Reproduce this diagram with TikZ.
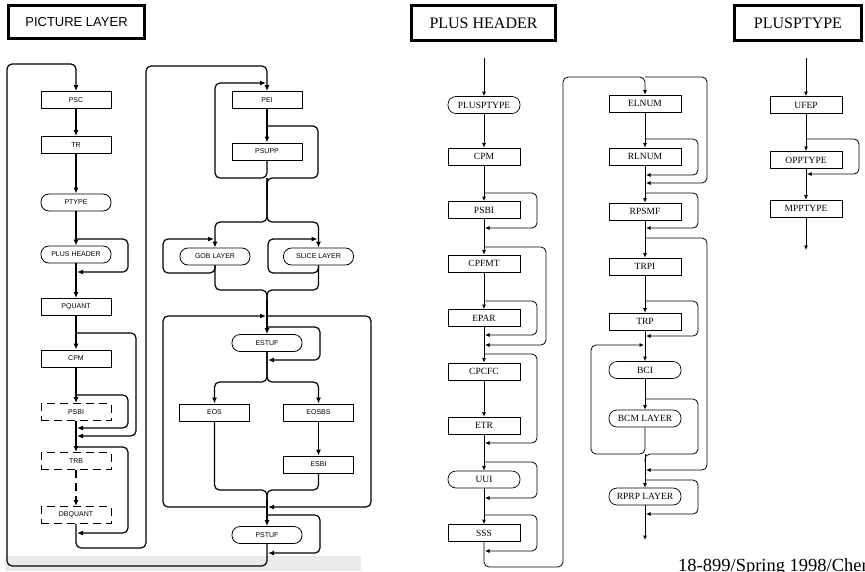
\documentclass[tikz,border=0pt]{standalone}
\usepackage{fontspec}
\setmainfont{Liberation Serif}
\setsansfont{Liberation Sans}
\usetikzlibrary{arrows.meta}

\begin{document}
\begin{tikzpicture}[
  x=1pt, y=-1pt,
  blockbox/.style={rectangle, draw, line width=0.8pt, minimum width=70pt,
                   minimum height=17pt, inner sep=0pt,
                   font=\sffamily\fontsize{7}{8}\selectfont},
  pillbox/.style={blockbox, rounded corners=8pt},
  optbox/.style={blockbox, dash pattern=on 8pt off 5pt},
  titlebox/.style={rectangle, draw, line width=3pt, inner sep=0pt},
  flow/.style={line width=1.2pt, rounded corners=5pt, -{Latex[length=6pt,width=5pt]}},
  link/.style={line width=1.2pt, rounded corners=5pt},
  hblock/.style={rectangle, draw, line width=0.7pt, minimum width=72pt,
                 minimum height=17pt, inner sep=0pt,
                 font=\fontsize{9.5}{10}\selectfont},
  hpill/.style={hblock, rounded corners=8pt},
  hflow/.style={line width=0.8pt, rounded corners=5pt, -{Latex[length=4.5pt,width=4pt]}},
  hlink/.style={line width=0.8pt, rounded corners=5pt}
]
\useasboundingbox (0,0) rectangle (865,571);
\fill[black!8] (5,556) rectangle (361,571);

% titles
\node[titlebox, minimum width=136pt, minimum height=33pt,
      font=\sffamily\fontsize{13}{14}\selectfont] (ttlpic) at (76.5,22) {PICTURE LAYER};
\node[titlebox, minimum width=144pt, minimum height=35pt,
      font=\fontsize{16}{18}\selectfont] (ttlplus) at (483.5,23) {PLUS HEADER};
\node[titlebox, minimum width=127pt, minimum height=35pt,
      font=\fontsize{16}{18}\selectfont] (ttlptype) at (798,23) {PLUSPTYPE};

% picture layer
\node[blockbox] (psc)     at (76,100)   {PSC};
\node[blockbox] (tr)      at (76,145)   {TR};
\node[pillbox]  (ptype)   at (76,202.5) {PTYPE};
\node[pillbox]  (plushdr) at (76,254.5) {PLUS HEADER};
\node[blockbox] (pquant)  at (76,307)   {PQUANT};
\node[blockbox] (cpm)     at (76,358.5) {CPM};
\node[optbox]   (psbi)    at (76,412)   {PSBI};
\node[optbox]   (trb)     at (76,461)   {TRB};
\node[optbox]   (dbquant) at (76,515)   {DBQUANT};

\node[blockbox] (pei)   at (267,100)   {PEI};
\node[blockbox] (psupp) at (267,151.5) {PSUPP};
\node[pillbox]  (gob)   at (215,256.5) {GOB LAYER};
\node[pillbox]  (slice) at (318.5,256.5) {SLICE LAYER};
\node[pillbox]  (estuf) at (267,343)   {ESTUF};
\node[blockbox] (eos)   at (214.5,412.5) {EOS};
\node[blockbox] (eosbs) at (318.5,412.5) {EOSBS};
\node[blockbox] (esbi)  at (318.5,464.5) {ESBI};
\node[pillbox]  (pstuf) at (267,535)   {PSTUF};

\draw[flow] (psc) -- (tr);
\draw[flow] (tr) -- (ptype);
\draw[flow] (ptype) -- (plushdr);
\draw[flow] (plushdr) -- (pquant);
\draw[flow] (pquant) -- (cpm);
\draw[flow] (cpm) -- (psbi);
\draw[flow] (psbi) -- (trb);
\draw[flow, dash pattern=on 8pt off 5pt] (trb) -- (dbquant);
\draw[flow] (76,239) -| (128,272) -- (77,272);
\draw[flow] (76,333) -| (136,436) -- (77,436);
\draw[flow] (76,395) -| (128,428) -- (77,428);
\draw[flow] (76,447) -| (128,533) -- (77,533);
\draw[flow] (dbquant) -- (76,548) -| (146,66) -| (pei);
\draw[flow] (pstuf) -- (267,566) -| (7,64) -| (psc);

\draw[flow] (pei) -- (psupp);
\draw[link] (267,126) -| (318,178) -- (267,178) -- (267,200);
\draw[flow] (psupp) -- (267,178) -| (215,83) -- (266,83);
\draw[flow] (267,178) -- (267,222) -| (gob);
\draw[flow] (267,178) -- (267,222) -| (slice);
\draw[flow] (gob) -- (215,273) -| (163,239) -- (214,239);
\draw[flow] (slice) -- (318.5,273) -| (268,239) -- (317.5,239);
\draw[link] (gob) |- (267,290) -- (267,300);
\draw[link] (slice) |- (267,290) -- (267,300);
\draw[flow] (267,300) -- (estuf);
\draw[flow] (267,316) -| (371,507) -- (268,507);
\draw[flow] (267,507) -| (163,316) -- (266,316);
\draw[flow] (267,327) -| (320,360) -- (268,360);
\draw[flow] (estuf) -- (267,382) -| (eos);
\draw[flow] (estuf) -- (267,382) -| (eosbs);
\draw[flow] (eosbs) -- (esbi);
\draw[link] (eos) |- (267,490) -- (267,500);
\draw[link] (esbi) |- (267,490) -- (267,500);
\draw[flow] (267,500) -- (pstuf);
\draw[flow] (267,515) -| (320,553) -- (268,553);

% plus header
\node[hpill]  (hptype) at (484,105)   {PLUSPTYPE};
\node[hblock] (hcpm)   at (484,156.5) {CPM};
\node[hblock] (hpsbi)  at (484,210)   {PSBI};
\node[hblock] (cpfmt)  at (484,263.5) {CPFMT};
\node[hblock] (epar)   at (484,318)   {EPAR};
\node[hblock] (cpcfc)  at (484,371.5) {CPCFC};
\node[hblock] (etr)    at (484,425.5) {ETR};
\node[hpill]  (uui)    at (484,479.5) {UUI};
\node[hblock] (sss)    at (484,533)   {SSS};

\node[hblock] (elnum)  at (645,103.5) {ELNUM};
\node[hblock] (rlnum)  at (645,156.5) {RLNUM};
\node[hblock] (rpsmf)  at (645,211.5) {RPSMF};
\node[hblock] (trpi)   at (645,266.5) {TRPI};
\node[hblock] (trp)    at (645,321.5) {TRP};
\node[hpill]  (bci)    at (645,370)   {BCI};
\node[hpill]  (bcm)    at (645,418.5) {BCM LAYER};
\node[hpill]  (rprp)   at (645,496.5) {RPRP LAYER};

\coordinate (hin) at (484,58);
\draw[hflow] (hin) -- (hptype);
\draw[hflow] (hptype) -- (hcpm);
\draw[hflow] (hcpm) -- (hpsbi);
\draw[hflow] (hpsbi) -- (cpfmt);
\draw[hflow] (cpfmt) -- (epar);
\draw[hflow] (epar) -- (cpcfc);
\draw[hflow] (cpcfc) -- (etr);
\draw[hflow] (etr) -- (uui);
\draw[hflow] (uui) -- (sss);
\draw[hflow] (484,193) -| (537,228) -- (485,228);
\draw[hflow] (484,247) -| (546,345) -- (485,345);
\draw[hflow] (484,301) -| (537,335) -- (485,335);
\draw[hflow] (484,354) -| (537,443) -- (485,443);
\draw[hflow] (484,462) -| (537,498) -- (485,498);
\draw[hflow] (484,515) -| (537,551) -- (485,551);
\draw[hflow] (sss) -- (484,567) -| (563,77) -| (elnum);

\draw[hflow] (elnum) -- (rlnum);
\draw[hflow] (rlnum) -- (rpsmf);
\draw[hflow] (rpsmf) -- (trpi);
\draw[hflow] (trpi) -- (trp);
\draw[hflow] (trp) -- (bci);
\draw[hflow] (bci) -- (bcm);
\draw[hflow] (645,77) -| (707,183) -- (646,183);
\draw[hflow] (645,139) -| (698,175) -- (646,175);
\draw[hflow] (645,193) -| (698,228) -- (646,228);
\draw[hflow] (645,238) -| (707,470) -- (646,470);
\draw[hflow] (645,301) -| (698,336) -- (646,336);
\draw[hlink] (645,399) -| (698,454) -- (645,454) -- (645,462);
\draw[hflow] (bcm) -- (645,454) -| (591,345) -- (644,345);
\draw[hflow] (645,454) -- (rprp);
\draw[hflow] (645,480) -| (698,514) -- (646,514);
\draw[hflow] (rprp) -- (645,540);

% plusptype
\node[hblock] (ufep)    at (806,105)   {UFEP};
\node[hblock] (opptype) at (806,160)   {OPPTYPE};
\node[hblock] (mpptype) at (806,208.5) {MPPTYPE};
\coordinate (pin) at (806,58);
\draw[hflow] (pin) -- (ufep);
\draw[hflow] (ufep) -- (opptype);
\draw[hflow] (opptype) -- (mpptype);
\draw[hflow] (806,139) -| (859,174) -- (807,174);
\draw[hflow] (mpptype) -- (806,250);

\node[anchor=base west, inner sep=0pt, font=\fontsize{18.5}{20}\selectfont]
  (footer) at (678,571.5) {18-899/Spring 1998/Chen};
\end{tikzpicture}
\end{document}
